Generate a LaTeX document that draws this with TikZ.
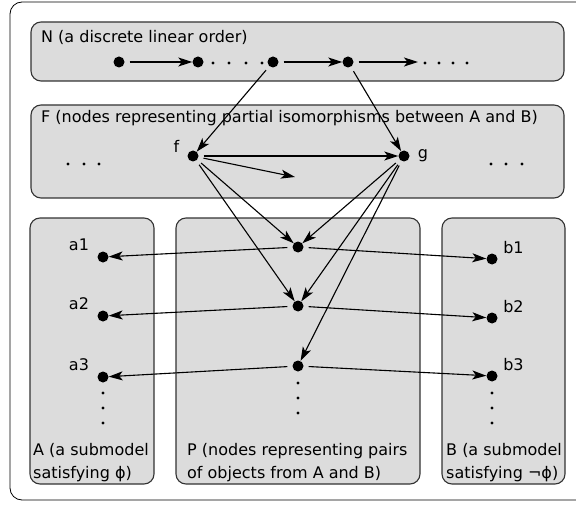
\documentclass[tikz,border=0pt]{standalone}
\usepackage{fontspec}
\setmainfont{DejaVu Sans}
\usetikzlibrary{arrows.meta}
\definecolor{panelgray}{RGB}{220,220,220}

\begin{document}
\begin{tikzpicture}[x=1pt, y=-1pt, >={Stealth[length=14pt, width=9pt, inset=3.5pt]},
    font=\fontsize{16pt}{23pt}\selectfont,
    panel/.style={draw=black!80, fill=panelgray, line width=1.1pt, rounded corners=10pt},
    vtx/.style={circle, fill, inner sep=0pt, minimum size=11pt},
    lbl/.style={inner sep=1pt},
    boxtext/.style={inner sep=0pt, align=left},
    conn/.style={->, line width=1.1pt, shorten <=5pt}]
    \useasboundingbox (0,0) rectangle (576,508);
    % Frames
    \draw[line width=0.8pt, rounded corners=12pt] (10,2) rectangle (600,500);
    \draw[panel] (31,22) rectangle (564,81);
    \draw[panel] (31,105) rectangle (564,198);
    \draw[panel] (30,218) rectangle (154,484);
    \draw[panel] (176,218) rectangle (420,484);
    \draw[panel] (442,218) rectangle (565,484);
    % Titles
    \node[boxtext, anchor=base west] (Ntext) at (41,43) {N (a discrete linear order)};
    \node[boxtext, anchor=base west] (Ftext) at (41,123) {F (nodes representing partial isomorphisms between A and B)};
    \node[boxtext, anchor=north west] (Atext) at (33,443) {A (a submodel\\satisfying ϕ)};
    \node[boxtext, anchor=north west] (Ptext) at (187,443) {P (nodes representing pairs\\of objects from A and B)};
    \node[boxtext, anchor=north west] (Btext) at (446,443) {B (a submodel\\satisfying ¬ϕ)};
    % Nodes
    \node[vtx] (n1) at (119,62) {};
    \node[vtx] (n2) at (198,62) {};
    \node[vtx] (n3) at (273,62) {};
    \node[vtx] (n4) at (348,62) {};
    \coordinate (nend) at (418,62);
    \node[vtx, label={[lbl, label distance=7pt]170:f}] (f) at (193,156) {};
    \node[vtx, label={[lbl, label distance=7pt]right:g}] (g) at (404,156) {};
    \coordinate (fend) at (295,177);
    \node[vtx] (p1) at (298,247) {};
    \node[vtx] (p2) at (298,306) {};
    \node[vtx] (p3) at (298,366) {};
    \node[vtx, label={[lbl, label distance=8pt]160:a1}] (a1) at (103,257) {};
    \node[vtx, label={[lbl, label distance=8pt]160:a2}] (a2) at (103,316) {};
    \node[vtx, label={[lbl, label distance=8pt]160:a3}] (a3) at (103,377) {};
    \node[vtx, label={[lbl, label distance=5pt]20:b1}] (b1) at (492,259) {};
    \node[vtx, label={[lbl, label distance=5pt]20:b2}] (b2) at (492,318) {};
    \node[vtx, label={[lbl, label distance=5pt]20:b3}] (b3) at (492,376) {};
    % Ellipsis dots
    \foreach \x in {213,229,246,262,425,439,453,467}
        \fill (\x,63) circle (1.6pt);
    \foreach \x in {68,84,99,491,506,522}
        \fill (\x,164) circle (1.6pt);
    \foreach \y in {393,408,423} {
        \fill (103,\y) circle (1.6pt);
        \fill (492,\y) circle (1.6pt);
    }
    \foreach \y in {383,398,413}
        \fill (298,\y) circle (1.6pt);
    % Arrows connecting the nodes
    \draw[conn] (n1) -- (n2);
    \draw[conn] (n3) -- (n4);
    \draw[conn] (n4) -- (nend);
    \draw[conn] (n3) -- (f);
    \draw[conn] (n4) -- (g);
    \draw[conn] (f) -- (g);
    \draw[conn] (f) -- (fend);
    \draw[conn] (f) -- (p1);
    \draw[conn] (f) -- (p2);
    \draw[conn] (g) -- (p1);
    \draw[conn] (g) -- (p2);
    \draw[conn] (g) -- (p3);
    \draw[conn] (p1) -- (a1);
    \draw[conn] (p1) -- (b1);
    \draw[conn] (p2) -- (a2);
    \draw[conn] (p2) -- (b2);
    \draw[conn] (p3) -- (a3);
    \draw[conn] (p3) -- (b3);
\end{tikzpicture}
\end{document}
